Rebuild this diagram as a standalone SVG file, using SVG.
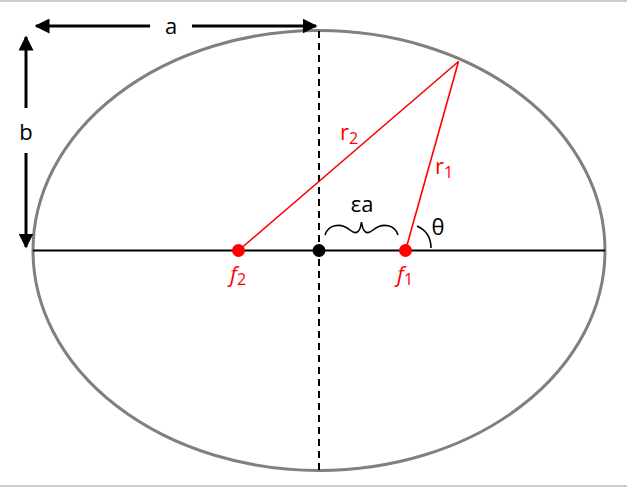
<svg xmlns="http://www.w3.org/2000/svg" width="627" height="487" viewBox="0 0 627 487">
<defs>
<marker id="ah" viewBox="0 0 10 10" refX="9" refY="5" markerWidth="5" markerHeight="5" orient="auto-start-reverse" markerUnits="strokeWidth">
<path d="M0,0 L10,5 L0,10 z" fill="#000"/>
</marker>
</defs>
<style>
text{font-family:"Open Sans","Liberation Sans",sans-serif;font-size:22px;}
.blk{fill:#000;}
.red{fill:#ff0000;}
.frame{stroke:#cccccc;stroke-width:2;}
.dim{stroke:#000;stroke-width:3;fill:none;}
.redl{stroke:#ff0000;stroke-width:1.6;fill:none;}
</style>
<rect width="627" height="487" fill="#fff"/>
<line class="frame" x1="0" y1="1" x2="627" y2="1"/>
<line class="frame" x1="0" y1="486" x2="627" y2="486"/>
<g id="ellipse">
<ellipse cx="319" cy="250.5" rx="286" ry="220" fill="none" stroke="#808080" stroke-width="3"/>
</g>
<g id="connectors">
<line x1="33" y1="250.5" x2="605" y2="250.5" stroke="#000" stroke-width="2"/>
<line x1="319" y1="31" x2="319" y2="470" stroke="#000" stroke-width="2" stroke-dasharray="7,5"/>
<line class="dim" x1="150" y1="26" x2="36" y2="26" marker-end="url(#ah)"/>
<line class="dim" x1="192" y1="26" x2="316" y2="26" marker-end="url(#ah)"/>
<line class="dim" x1="26" y1="108" x2="26" y2="37" marker-end="url(#ah)"/>
<line class="dim" x1="26" y1="153" x2="26" y2="247" marker-end="url(#ah)"/>
<line class="redl" x1="238.5" y1="250.5" x2="458.5" y2="61.5"/>
<line class="redl" x1="405.5" y1="250.5" x2="458.5" y2="61.5"/>
<path d="M325,235 C328,225 340,222 350,230 C356,235 360,233 361.5,222 C363,233 367,235 373,230 C383,222 395,225 398,235" fill="none" stroke="#000" stroke-width="1.6"/>
<path d="M417,226 C426,230 431,238 431,248" fill="none" stroke="#000" stroke-width="1.6"/>
</g>
<g id="f2">
<circle cx="238.5" cy="250.5" r="6.5" fill="#ff0000"/>
<text class="red" x="230" y="282" font-style="italic" font-size="24">f<tspan font-size="16" dy="3" font-style="normal">2</tspan></text>
</g>
<g id="center">
<circle cx="319" cy="250.5" r="6.5" fill="#000"/>
</g>
<g id="f1">
<circle cx="405.5" cy="250.5" r="6.5" fill="#ff0000"/>
<text class="red" x="397" y="282" font-style="italic" font-size="24">f<tspan font-size="16" dy="3" font-style="normal">1</tspan></text>
</g>
<g id="labels">
<text class="blk" x="171" y="34" text-anchor="middle">a</text>
<text class="blk" x="26" y="140" text-anchor="middle">b</text>
<text class="red" x="340" y="140">r<tspan font-size="16" dy="4">2</tspan></text>
<text class="red" x="435" y="174">r<tspan font-size="16" dy="4">1</tspan></text>
<text class="blk" x="362" y="212" text-anchor="middle">εa</text>
<text class="blk" x="438" y="235" text-anchor="middle">θ</text>
</g>
</svg>
